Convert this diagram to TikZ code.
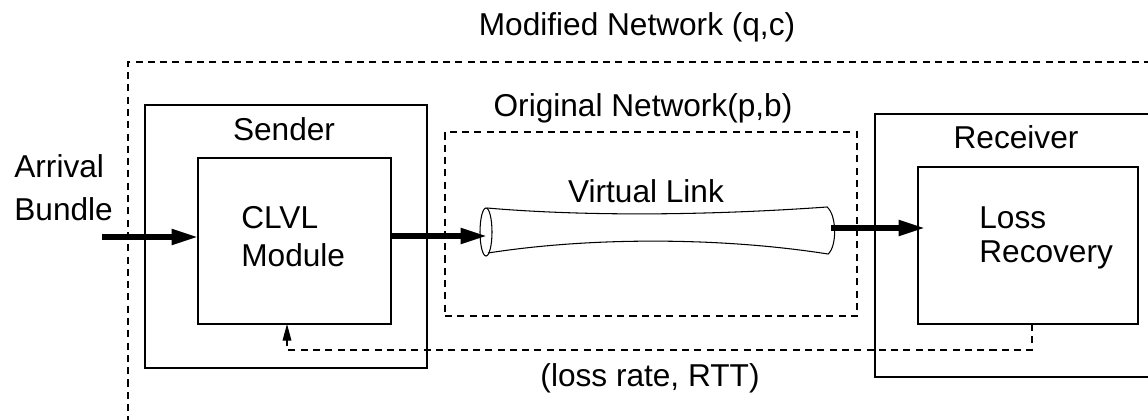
\documentclass[tikz,border=0pt]{standalone}
\usepackage{fontspec}
\setmainfont{Liberation Sans}
\usetikzlibrary{arrows.meta}

\begin{document}
\begin{tikzpicture}[x=0.02cm, y=-0.02cm,
		box/.style={draw, line width=0.6pt, inner sep=0pt, outer sep=0pt},
		netbox/.style={box, dash pattern=on 4pt off 3pt},
		lbl/.style={inner sep=0pt, font=\fontsize{18}{21}\selectfont},
		flow/.style={line width=3pt, -{Triangle[length=15pt, width=8.5pt]}},
		feedback/.style={line width=0.6pt, dash pattern=on 4pt off 3pt, -{Triangle[length=9.5pt, width=5pt]}}]
	\useasboundingbox (0,0) rectangle (1148,419);
	\clip (0,0) rectangle (1148,419);

	% Boxes
	\node[netbox, minimum width=1042*0.02cm, minimum height=378*0.02cm] (modnet) at (649,251) {};
	\node[box, minimum width=282*0.02cm, minimum height=263*0.02cm] (sender) at (286,236.5) {};
	\node[box, minimum width=193*0.02cm, minimum height=166*0.02cm] (clvl) at (294.5,241) {};
	\node[netbox, minimum width=412*0.02cm, minimum height=184*0.02cm] (orignet) at (651,224) {};
	\node[box, minimum width=295*0.02cm, minimum height=263*0.02cm] (receiver) at (1022.5,245.5) {};
	\node[box, minimum width=220*0.02cm, minimum height=157*0.02cm] (loss) at (1028,245.5) {};

	% Labels
	\node[lbl, anchor=base] (modnetlbl) at (637,35) {Modified Network (q,c)};
	\node[lbl, anchor=base] (orignetlbl) at (643,116) {Original Network(p,b)};
	\node[lbl, anchor=base] (senderlbl) at (284,140) {Sender};
	\node[lbl, anchor=base] (receiverlbl) at (1016,148) {Receiver};
	\node[lbl, anchor=base] (vlinklbl) at (646,202) {Virtual Link};
	\node[lbl, anchor=base] (fblbl) at (650,386) {(loss rate, RTT)};
	\node[lbl, anchor=north west, align=left, font=\fontsize{18}{24.6}\selectfont] (arrivallbl) at (14,154) {Arrival\\Bundle};
	\node[lbl, anchor=north west, align=left, font=\fontsize{18}{21.8}\selectfont] (clvllbl) at (241,206) {CLVL\\Module};
	\node[lbl, anchor=north west, align=left, font=\fontsize{18}{19.4}\selectfont] (losslbl) at (979,206) {Loss\\Recovery};

	% Virtual link tube
	\draw[line width=0.6pt] (486,232) ellipse [x radius=6, y radius=24];
	\draw[line width=0.6pt] (487,208) .. controls (580,216) and (700,216) .. (827,207)
		.. controls (837,215) and (837,247) .. (828,254)
		.. controls (720,237) and (590,237) .. (488,253);
	\coordinate (tubein) at (487,236);
	\coordinate (tubeout) at (831,228);
	\coordinate (arrival) at (102,237);
	\coordinate (fbturn) at (287,350);

	% Connectors
	\draw[flow] (arrival) -- (arrival -| clvl.west);
	\draw[flow] (clvl.east |- tubein) -- (tubein);
	\draw[flow, shorten >=-4pt] (tubeout) -- (tubeout -| loss.west);
	\draw[feedback] ([xshift=0.08cm]loss.south) |- (fbturn) -- (fbturn |- clvl.south);
\end{tikzpicture}
\end{document}
